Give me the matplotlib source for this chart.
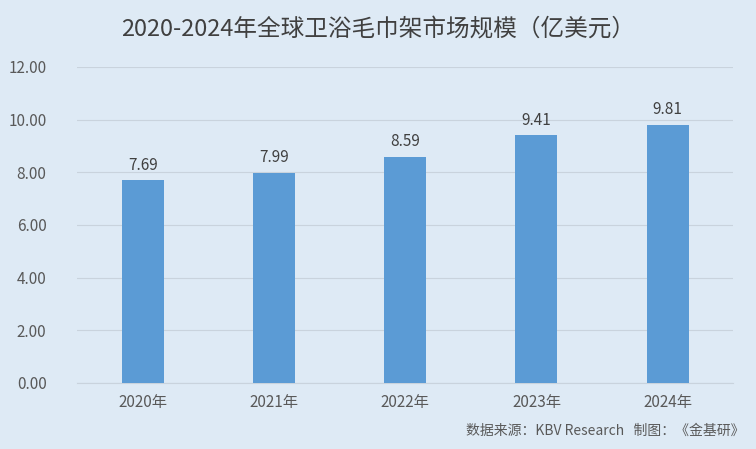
import matplotlib
matplotlib.use("Agg")
import matplotlib.pyplot as plt

plt.rcParams['font.family'] = ['Noto Sans CJK SC', 'DejaVu Sans']

categories = ["2020年", "2021年", "2022年", "2023年", "2024年"]
values = [7.69, 7.99, 8.59, 9.41, 9.81]
yticks = [0, 2, 4, 6, 8, 10, 12]

bg = "#DEEAF5"
fig = plt.figure(figsize=(7.56, 4.49), dpi=100, facecolor=bg)
ax = fig.add_axes([0.102, 0.147, 0.868, 0.704], facecolor=bg)
x = range(len(categories))
bars = ax.bar(x, values, width=0.32, color="#5B9BD5", zorder=3)
for xi, v in zip(x, values):
    ax.text(xi, v + 0.25, f"{v:.2f}", ha="center", va="bottom", fontsize=11, color="#404040")
ax.set_ylim(0, 12)
ax.set_xlim(-0.5, len(categories) - 0.5)
ax.set_yticks(yticks)
ax.set_yticklabels([f"{t:.2f}" for t in yticks], fontsize=11, color="#595959")
ax.set_xticks(list(x))
ax.set_xticklabels(categories, fontsize=11, color="#595959")
ax.grid(axis="y", color="#C9D3DD", linewidth=0.8, zorder=0)
for s in ["top", "right", "left"]:
    ax.spines[s].set_visible(False)
ax.spines["bottom"].set_color("#C9D3DD")
ax.tick_params(length=0, pad=8)
ax.tick_params(axis="y", pad=22)
fig.text(0.5, 0.935, "2020-2024年全球卫浴毛巾架市场规模（亿美元）", ha="center", va="center",
         fontsize=17, color="#404040")
fig.text(0.985, 0.025, "数据来源：KBV Research   制图：《金基研》", ha="right", va="bottom",
         fontsize=10, color="#595959")
fig.savefig("out.png", dpi=100, facecolor=bg)
